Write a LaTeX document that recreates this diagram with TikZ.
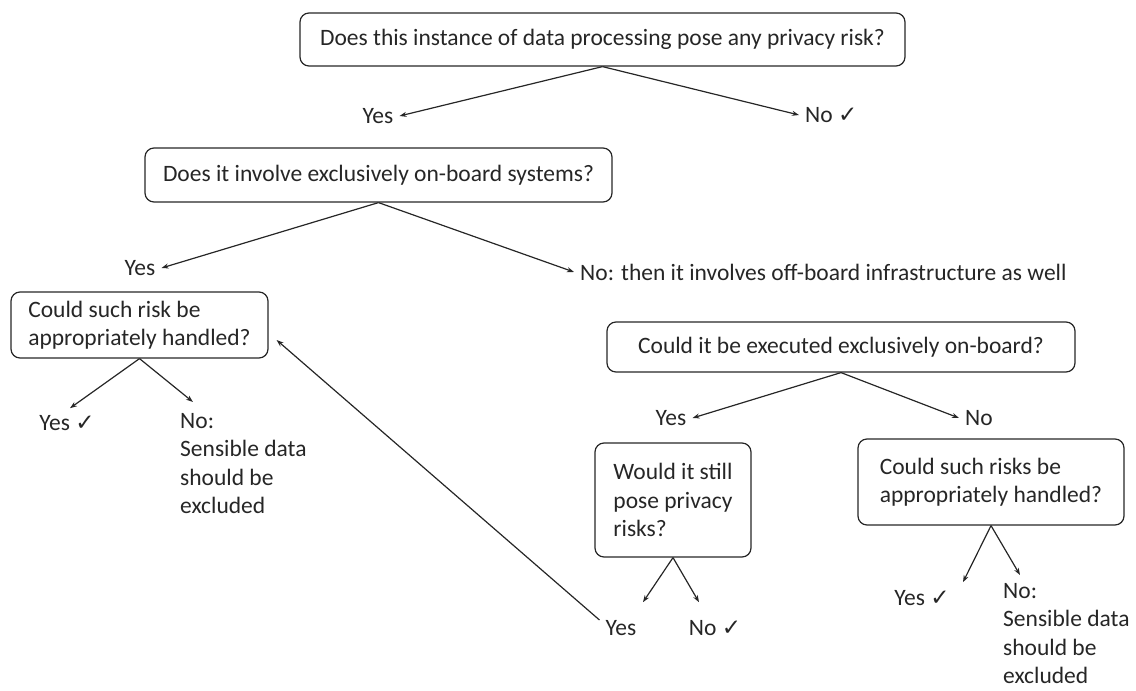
\documentclass[tikz,border=0pt]{standalone}
\usepackage{fontspec}
\setmainfont{Carlito}
\newfontfamily\symfont{DejaVu Sans}
\newcommand{\ok}{{\symfont\fontsize{23}{28.5}\selectfont ✓}}
\usetikzlibrary{arrows.meta}
\begin{document}
\begin{tikzpicture}[x=1pt,y=-1pt,
		font=\fontsize{23.5}{28.5}\selectfont,
		every node/.style={text=black!85},
		question/.style={draw=black!85, line width=1.2pt, rounded corners=9pt, align=left, inner sep=0pt},
		answer/.style={align=left, inner xsep=6pt, inner ysep=2pt},
		branch/.style={draw=black!85, line width=1.2pt, -{Stealth[length=7pt,width=5pt]}}]
		\useasboundingbox (0,0) rectangle (1136,691);

		\node[question, minimum width=605pt, minimum height=53pt] (q1) at (602.5,39.5) {Does this instance of data processing pose any privacy risk?};
		\node[answer] (y1) at (378,116) {Yes};
		\node[answer, anchor=west] (n1) at (799,115) {No \ok};
		\draw[branch] (q1.south) -- (y1.east);
		\draw[branch] (q1.south) -- (n1.west);

		\node[question, minimum width=467pt, minimum height=54pt] (q2) at (378.5,175) {Does it involve exclusively on-board systems?};
		\node[answer] (y2) at (140,268) {Yes};
		\node[answer, anchor=west] (n2) at (574,272) {No: then it involves off-board infrastructure as well};
		\draw[branch] (q2.south) -- (y2.east);
		\draw[branch] (q2.south) -- (n2.west);

		\node[question, minimum width=257pt, minimum height=66pt] (q3) at (139.5,325) {Could such risk be\\appropriately handled?};
		\node[answer] (y3) at (67,423) {Yes \ok};
		\node[answer, anchor=north west] (n3) at (174,411) {No:\\Sensible data\\should be\\excluded};
		\draw[branch] (q3.south) -- ([xshift=3pt,yshift=5pt]y3.north);
		\draw[branch] (q3.south) -- ([xshift=19pt,yshift=9pt]n3.north west);

		\node[question, minimum width=468pt, minimum height=50pt] (q4) at (841,347) {Could it be executed exclusively on-board?};
		\node[answer] (y4) at (671,418) {Yes};
		\node[answer, anchor=west] (n4) at (959,418) {No};
		\draw[branch] (q4.south) -- (y4.east);
		\draw[branch] (q4.south) -- (n4.west);

		\node[question, minimum width=156pt, minimum height=114pt] (q5) at (673,500) {Would it still\\pose privacy\\risks?};
		\node[answer] (y5) at (621,628) {Yes};
		\node[answer] (n5) at (715,628) {No \ok};
		\draw[branch] (q5.south) -- ([xshift=22pt,yshift=16pt]y5.north);
		\draw[branch] (q5.south) -- ([xshift=-16pt,yshift=16pt]n5.north);
		\draw[branch] ([yshift=8pt]y5.west) -- ([xshift=8pt,yshift=-15pt]q3.east);

		\node[question, minimum width=266pt, minimum height=86pt] (q6) at (991,482) {Could such risks be\\appropriately handled?};
		\node[answer] (y6) at (922,598) {Yes \ok};
		\node[answer, anchor=north west] (n6) at (997,581) {No:\\Sensible data\\should be\\excluded};
		\draw[branch] (q6.south) -- ([xshift=41pt,yshift=6pt]y6.north);
		\draw[branch] (q6.south) -- ([xshift=23pt,yshift=6pt]n6.north west);
	\end{tikzpicture}
\end{document}
